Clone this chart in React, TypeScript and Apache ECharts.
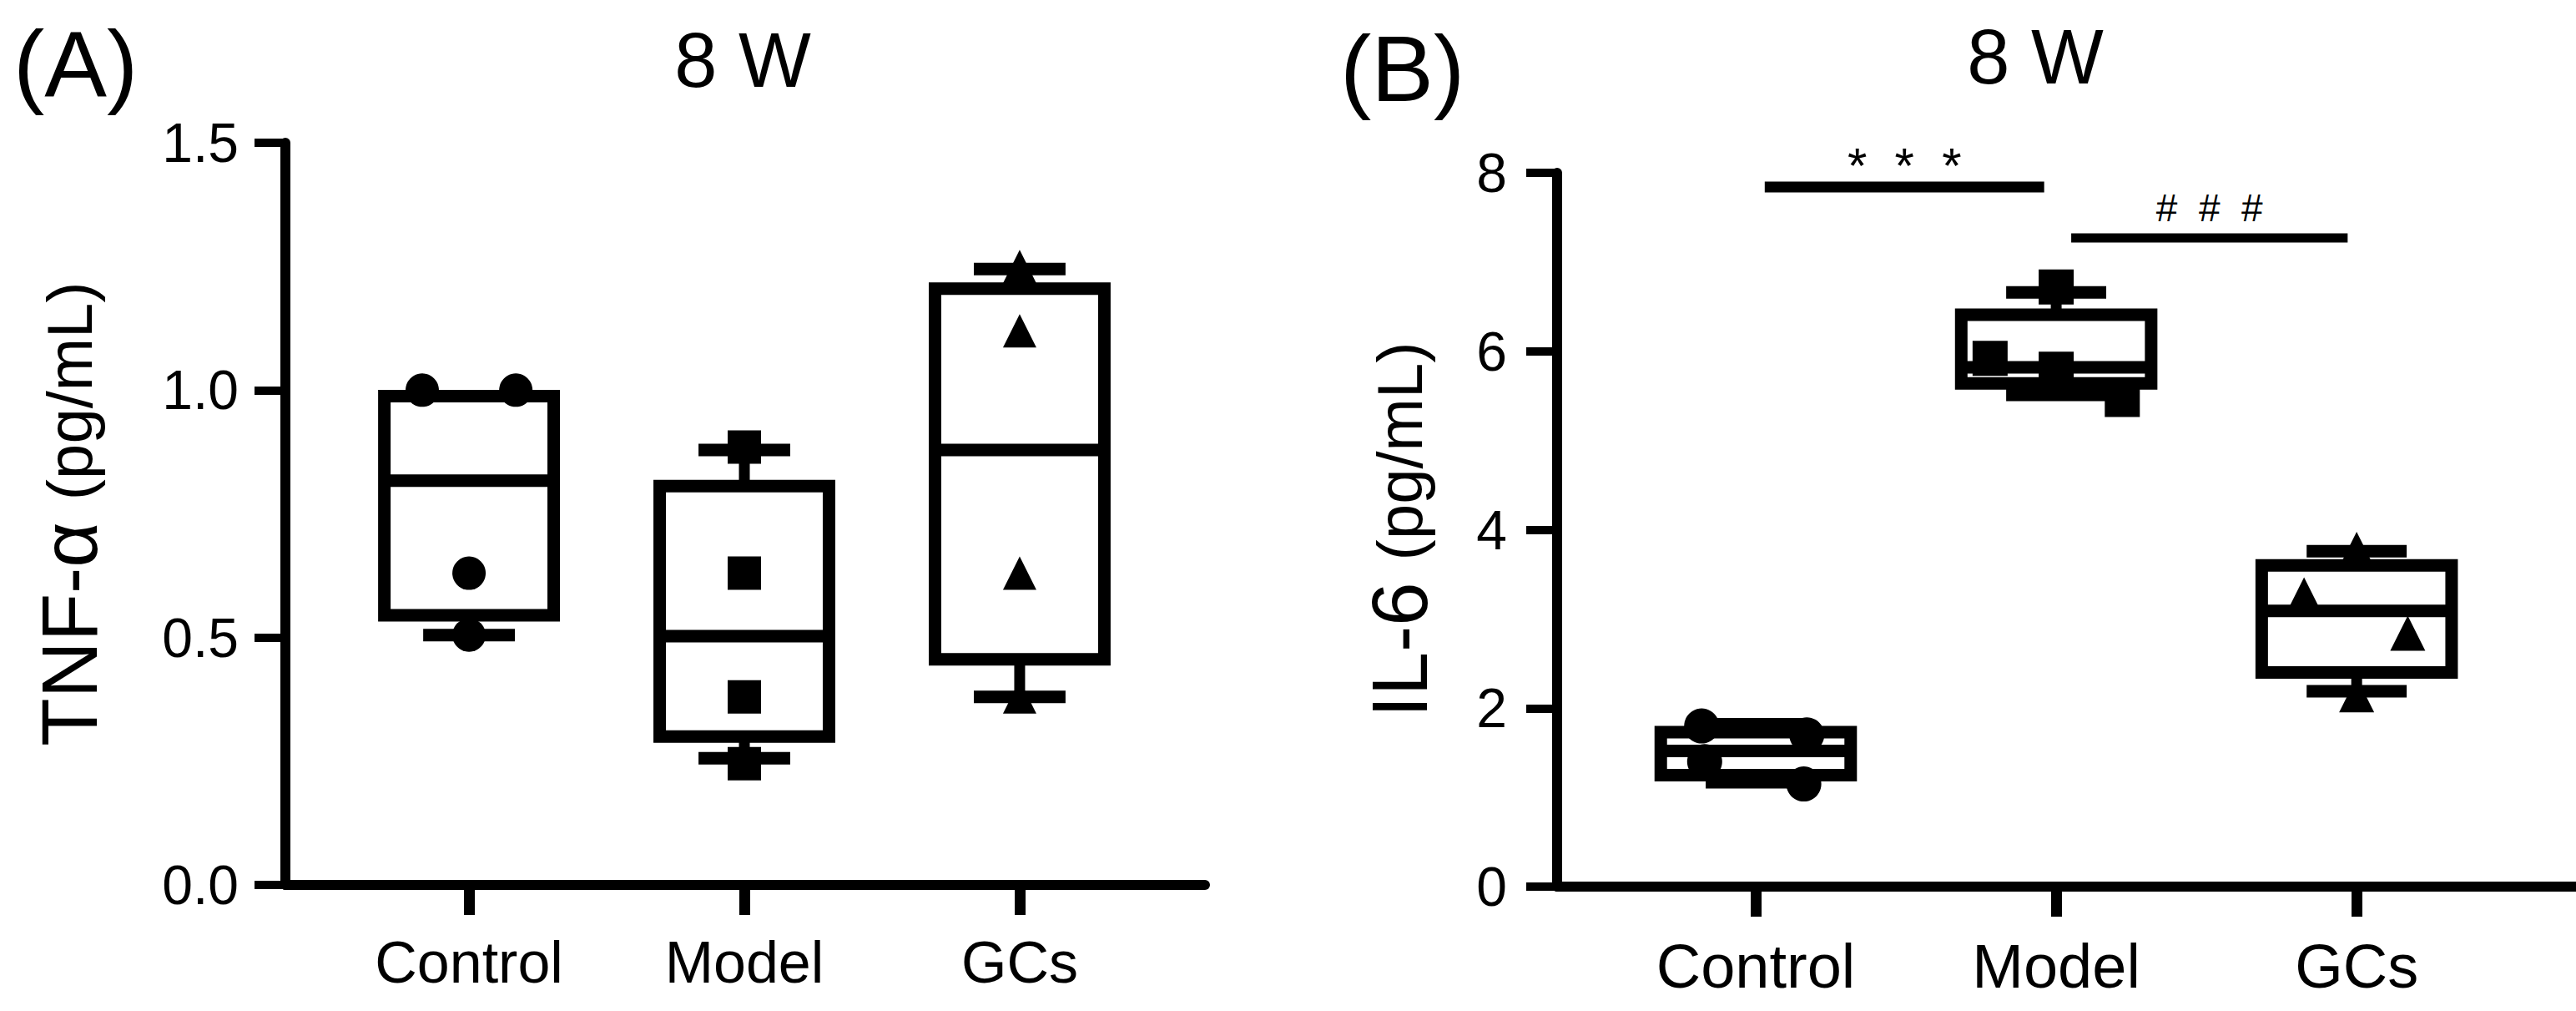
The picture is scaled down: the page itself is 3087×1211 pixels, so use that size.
import * as echarts from 'echarts';
import { useEffect, useRef } from 'react';

const FONT = '"Liberation Sans", Arial, Helvetica, sans-serif';

const categories = ['Control', 'Model', 'GCs'];
const groupSymbols = ['circle', 'rect', 'triangle'];

// (A) TNF-α — box per group: [min, Q1, median, Q3, max]
const tnfBoxes = [
  [0.505, 0.545, 0.817, 0.988, 0.988],
  [0.256, 0.3, 0.503, 0.806, 0.879],
  [0.38, 0.456, 0.879, 1.205, 1.245],
];
// individual animals
const tnfPoints = [
  [1.0, 1.0, 0.63, 0.505],
  [0.885, 0.63, 0.38, 0.245],
  [1.25, 1.12, 0.63, 0.38],
];
const tnfJitter = [
  [-0.17, 0.17, 0, 0],
  [0, 0, 0, 0],
  [0, 0, 0, 0],
];
const tnfTicks = [0, 1.5, 0.5]; // min, max, step

// (B) IL-6
const il6Boxes = [
  [1.17, 1.25, 1.52, 1.73, 1.82],
  [5.51, 5.64, 5.82, 6.41, 6.66],
  [2.19, 2.4, 3.09, 3.6, 3.76],
];
const il6Points = [
  [1.8, 1.7, 1.4, 1.15],
  [6.72, 5.92, 5.8, 5.46],
  [3.78, 3.27, 2.84, 2.15],
];
const il6Jitter = [
  [-0.18, 0.17, -0.17, 0.16],
  [0, -0.22, 0, 0.22],
  [0, -0.175, 0.17, 0],
];
const il6Ticks = [0, 8, 2];

// significance bars on (B)
const sigFrom = [0.03, 1.05];
const sigTo = [0.96, 1.97];
const sigY = [7.84, 7.27];
const sigMarks = ['*  *  *', '#  #  #'];

const sigStyle = [
  { lift: 26, width: 13, fontSize: 60 },
  { lift: 36, width: 11, fontSize: 46 },
];

function boxItem(boxFrac: number, capFrac: number) {
  return (_params: any, api: any) => {
    const i = api.value(0);
    const [mn, q1, md, q3, mx] = [1, 2, 3, 4, 5].map((d) => api.value(d));
    const unit = api.size([1, 0])[0];
    const half = (unit * boxFrac) / 2;
    const cap = (unit * capFrac) / 2;
    const [cx, yQ3] = api.coord([i, q3]);
    const yQ1 = api.coord([i, q1])[1];
    const yMd = api.coord([i, md])[1];
    const yMin = api.coord([i, mn])[1];
    const yMax = api.coord([i, mx])[1];
    const thick = { stroke: '#000', lineWidth: 15, fill: null };
    const whisker = { stroke: '#000', lineWidth: 13 };
    return {
      type: 'group',
      children: [
        { type: 'line', shape: { x1: cx, y1: yQ3, x2: cx, y2: yMax }, style: whisker },
        { type: 'line', shape: { x1: cx, y1: yQ1, x2: cx, y2: yMin }, style: whisker },
        { type: 'line', shape: { x1: cx - cap, y1: yMax, x2: cx + cap, y2: yMax }, style: thick },
        { type: 'line', shape: { x1: cx - cap, y1: yMin, x2: cx + cap, y2: yMin }, style: thick },
        {
          type: 'rect',
          shape: { x: cx - half, y: yQ3, width: half * 2, height: yQ1 - yQ3 },
          style: { ...thick, fill: '#fff' },
        },
        { type: 'line', shape: { x1: cx - half, y1: yMd, x2: cx + half, y2: yMd }, style: thick },
      ],
    };
  };
}

function sigItem(params: any, api: any) {
  const k = params.dataIndex;
  const s = sigStyle[k];
  const p1 = api.coord([api.value(0), api.value(2)]);
  const p2 = api.coord([api.value(1), api.value(2)]);
  return {
    type: 'group',
    children: [
      {
        type: 'line',
        shape: { x1: p1[0], y1: p1[1], x2: p2[0], y2: p2[1] },
        style: { stroke: '#000', lineWidth: s.width },
      },
      {
        type: 'text',
        x: (p1[0] + p2[0]) / 2,
        y: p1[1] - s.lift,
        style: {
          text: sigMarks[k],
          fill: '#000',
          fontSize: s.fontSize,
          fontFamily: FONT,
          align: 'center',
          verticalAlign: 'middle',
        },
      },
    ],
  };
}

function xAxis(gridIndex: number, min: number, max: number, fontSize: number) {
  return {
    type: 'value',
    gridIndex,
    min,
    max,
    axisLine: { show: true, onZero: false, lineStyle: { color: '#000', width: 12 } },
    axisTick: {
      show: true,
      customValues: [0, 1, 2],
      length: 36,
      lineStyle: { color: '#000', width: 13 },
    },
    axisLabel: {
      customValues: [0, 1, 2],
      formatter: (v: number) => categories[Math.round(v)] ?? '',
      margin: 58,
      fontSize,
      color: '#000',
      fontFamily: FONT,
    },
    splitLine: { show: false },
  };
}

function yAxis(
  gridIndex: number,
  ticks: number[],
  digits: number,
  title: string,
  nameGap: number,
  labelMargin: number,
) {
  return {
    type: 'value',
    gridIndex,
    min: ticks[0],
    max: ticks[1],
    interval: ticks[2],
    axisLine: { show: true, onZero: false, lineStyle: { color: '#000', width: 12 } },
    axisTick: { show: true, length: 37, lineStyle: { color: '#000', width: 10 } },
    axisLabel: {
      formatter: (v: number) => v.toFixed(digits),
      fontSize: 66,
      margin: labelMargin,
      color: '#000',
      fontFamily: FONT,
    },
    splitLine: { show: false },
    name: `{a|${title} }{b|(pg/mL)}`,
    nameLocation: 'middle',
    nameRotate: 90,
    nameGap,
    nameTextStyle: {
      color: '#000',
      fontFamily: FONT,
      rich: {
        a: { fontSize: 94, fontFamily: FONT, color: '#000' },
        b: { fontSize: 76, fontFamily: FONT, color: '#000' },
      },
    },
  };
}

function pointsData(values: number[][], jitter: number[][]) {
  return values.flatMap((vals, g) =>
    vals.map((v, k) => ({ value: [g + jitter[g][k], v], symbol: groupSymbols[g] })),
  );
}

function headText(text: string, x: number, y: number, fontSize: number, align: string) {
  return {
    type: 'text',
    x,
    y,
    style: { text, fill: '#000', fontSize, fontFamily: FONT, align, verticalAlign: 'middle' },
  };
}

export default function App() {
  const container = useRef<HTMLDivElement | null>(null);

  useEffect(() => {
    document.body.style.margin = '0';
    if (!container.current) return;
    const chart = echarts.init(container.current, undefined, { renderer: 'svg' });
    chart.setOption({
      animation: false,
      backgroundColor: '#fff',
      grid: [
        { left: 342, top: 171, width: 1102, height: 889 },
        { left: 1866, top: 207, width: 1221, height: 855 },
      ],
      xAxis: [xAxis(0, -0.667, 2.673, 70), xAxis(1, -0.661, 2.73, 74)],
      yAxis: [
        yAxis(0, tnfTicks, 1, 'TNF-α', 212, 56),
        yAxis(1, il6Ticks, 0, 'IL-6', 142, 60),
      ],
      graphic: [
        headText('(A)', 16, 76, 112, 'left'),
        headText('8 W', 890, 72, 92, 'center'),
        headText('(B)', 1606, 82, 112, 'left'),
        headText('8 W', 2439, 68, 92, 'center'),
      ],
      series: [
        {
          type: 'custom',
          xAxisIndex: 0,
          yAxisIndex: 0,
          renderItem: boxItem(0.615, 0.333),
          encode: { x: 0, y: [1, 2, 3, 4, 5] },
          data: tnfBoxes.map((b, i) => [i, ...b]),
          z: 2,
        },
        {
          type: 'scatter',
          xAxisIndex: 0,
          yAxisIndex: 0,
          symbolSize: 40,
          itemStyle: { color: '#000', opacity: 1 },
          data: pointsData(tnfPoints, tnfJitter),
          z: 5,
        },
        {
          type: 'custom',
          xAxisIndex: 1,
          yAxisIndex: 1,
          renderItem: boxItem(0.632, 0.333),
          encode: { x: 0, y: [1, 2, 3, 4, 5] },
          data: il6Boxes.map((b, i) => [i, ...b]),
          z: 2,
        },
        {
          type: 'scatter',
          xAxisIndex: 1,
          yAxisIndex: 1,
          symbolSize: 42,
          itemStyle: { color: '#000', opacity: 1 },
          data: pointsData(il6Points, il6Jitter),
          z: 5,
        },
        {
          type: 'custom',
          xAxisIndex: 1,
          yAxisIndex: 1,
          renderItem: sigItem,
          encode: { x: [0, 1], y: 2 },
          data: sigFrom.map((f, i) => [f, sigTo[i], sigY[i]]),
          clip: false,
          z: 3,
        },
      ],
    });
    return () => {
      chart.dispose();
    };
  }, []);

  return <div ref={container} style={{ width: 3087, height: 1211 }} />;
}
